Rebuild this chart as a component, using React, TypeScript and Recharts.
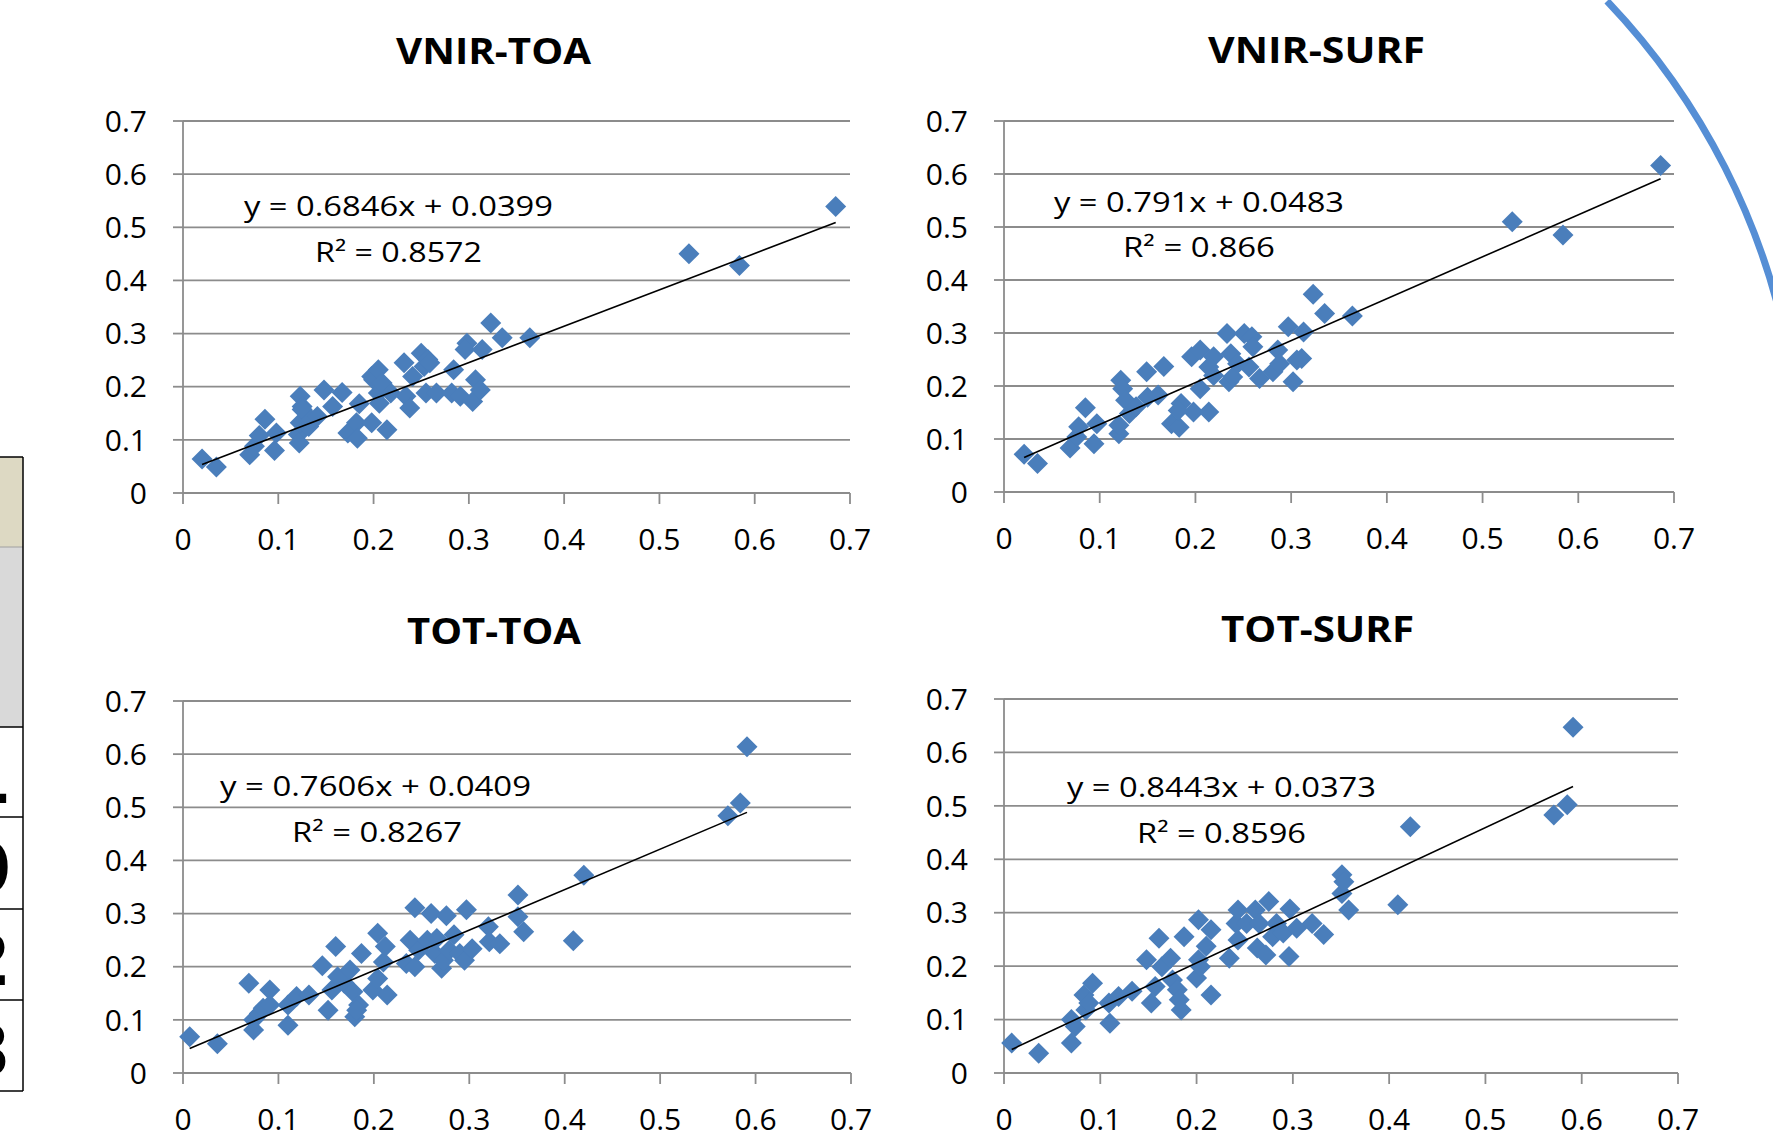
import { ScatterChart, Scatter, XAxis, YAxis, CartesianGrid } from 'recharts';

// values: [x, y]
const vnirToa: [number, number][] = [
  [0.02, 0.064], [0.035, 0.049], [0.07, 0.072], [0.075, 0.088], [0.08, 0.108], [0.086, 0.139],
  [0.096, 0.08], [0.098, 0.113], [0.121, 0.11], [0.122, 0.094], [0.123, 0.182], [0.125, 0.163],
  [0.123, 0.132], [0.125, 0.157], [0.132, 0.125], [0.135, 0.138], [0.141, 0.144], [0.148, 0.194],
  [0.157, 0.163], [0.167, 0.189], [0.173, 0.113], [0.182, 0.132], [0.183, 0.103], [0.185, 0.168],
  [0.198, 0.132], [0.198, 0.219], [0.2, 0.213], [0.205, 0.232], [0.205, 0.188], [0.206, 0.169],
  [0.214, 0.119], [0.209, 0.207], [0.218, 0.188], [0.232, 0.245], [0.234, 0.182], [0.238, 0.16],
  [0.241, 0.219], [0.25, 0.263], [0.253, 0.238], [0.257, 0.251], [0.259, 0.245], [0.255, 0.188],
  [0.266, 0.188], [0.282, 0.188], [0.284, 0.232], [0.291, 0.182], [0.298, 0.282], [0.296, 0.27],
  [0.304, 0.172], [0.307, 0.213], [0.312, 0.194], [0.314, 0.27], [0.323, 0.32], [0.335, 0.292],
  [0.364, 0.292], [0.531, 0.45], [0.584, 0.428], [0.685, 0.539],
];

const vnirSurf: [number, number][] = [
  [0.021, 0.071], [0.035, 0.054], [0.069, 0.083], [0.076, 0.104], [0.078, 0.123], [0.085, 0.159],
  [0.094, 0.091], [0.097, 0.129], [0.12, 0.11], [0.12, 0.126], [0.122, 0.211], [0.124, 0.195],
  [0.127, 0.173], [0.131, 0.148], [0.138, 0.161], [0.149, 0.227], [0.15, 0.179], [0.161, 0.183],
  [0.167, 0.237], [0.175, 0.129], [0.183, 0.122], [0.185, 0.167], [0.182, 0.154], [0.198, 0.151],
  [0.205, 0.195], [0.196, 0.255], [0.205, 0.268], [0.214, 0.151], [0.219, 0.255], [0.214, 0.236],
  [0.219, 0.22], [0.233, 0.299], [0.235, 0.208], [0.237, 0.261], [0.239, 0.217], [0.251, 0.299],
  [0.259, 0.293], [0.26, 0.274], [0.256, 0.236], [0.244, 0.242], [0.267, 0.214], [0.281, 0.227],
  [0.286, 0.268], [0.288, 0.242], [0.297, 0.312], [0.302, 0.208], [0.306, 0.249], [0.311, 0.252],
  [0.313, 0.302], [0.323, 0.373], [0.335, 0.337], [0.364, 0.332], [0.531, 0.51], [0.584, 0.485],
  [0.686, 0.616],
];

const totToa: [number, number][] = [
  [0.007, 0.068], [0.036, 0.055], [0.069, 0.169], [0.074, 0.1], [0.074, 0.081], [0.08, 0.112],
  [0.084, 0.122], [0.091, 0.156], [0.091, 0.128], [0.11, 0.09], [0.11, 0.128], [0.119, 0.144],
  [0.132, 0.147], [0.146, 0.202], [0.152, 0.118], [0.156, 0.156], [0.16, 0.238], [0.162, 0.181],
  [0.169, 0.169], [0.175, 0.194], [0.178, 0.153], [0.18, 0.106], [0.184, 0.128], [0.182, 0.118],
  [0.187, 0.225], [0.199, 0.156], [0.204, 0.263], [0.204, 0.178], [0.21, 0.209], [0.212, 0.238],
  [0.214, 0.147], [0.234, 0.206], [0.238, 0.25], [0.243, 0.311], [0.243, 0.2], [0.247, 0.231],
  [0.256, 0.25], [0.26, 0.3], [0.264, 0.225], [0.266, 0.253], [0.271, 0.197], [0.273, 0.212],
  [0.276, 0.296], [0.279, 0.231], [0.284, 0.26], [0.29, 0.225], [0.295, 0.212], [0.297, 0.307],
  [0.303, 0.234], [0.32, 0.275], [0.321, 0.247], [0.332, 0.243], [0.351, 0.335], [0.351, 0.294],
  [0.357, 0.266], [0.409, 0.249], [0.42, 0.372], [0.571, 0.484], [0.584, 0.508], [0.591, 0.614],
];

const totSurf: [number, number][] = [
  [0.008, 0.056], [0.036, 0.037], [0.07, 0.056], [0.07, 0.1], [0.074, 0.087], [0.083, 0.146],
  [0.085, 0.118], [0.092, 0.168], [0.088, 0.131], [0.11, 0.093], [0.109, 0.131], [0.119, 0.143],
  [0.133, 0.153], [0.148, 0.212], [0.153, 0.131], [0.157, 0.162], [0.161, 0.252], [0.164, 0.199],
  [0.173, 0.215], [0.175, 0.174], [0.18, 0.156], [0.182, 0.137], [0.184, 0.118], [0.187, 0.255],
  [0.2, 0.178], [0.202, 0.212], [0.204, 0.199], [0.202, 0.287], [0.21, 0.237], [0.215, 0.268],
  [0.215, 0.146], [0.234, 0.215], [0.241, 0.28], [0.243, 0.249], [0.243, 0.305], [0.252, 0.28],
  [0.261, 0.305], [0.263, 0.234], [0.265, 0.28], [0.272, 0.221], [0.275, 0.321], [0.279, 0.255],
  [0.283, 0.28], [0.29, 0.262], [0.296, 0.218], [0.297, 0.307], [0.304, 0.271], [0.32, 0.28],
  [0.332, 0.259], [0.351, 0.371], [0.351, 0.336], [0.353, 0.358], [0.358, 0.305], [0.409, 0.315],
  [0.422, 0.461], [0.571, 0.483], [0.585, 0.502], [0.591, 0.647],
];

const axisTicks = [0, 0.1, 0.2, 0.3, 0.4, 0.5, 0.6, 0.7];

// trendline coefficients as printed on each panel
const slopes = [0.6846, 0.791, 0.7606, 0.8443];
const intercepts = [0.0399, 0.0483, 0.0409, 0.0373];
const titles = ['VNIR-TOA', 'VNIR-SURF', 'TOT-TOA', 'TOT-SURF'];
const equations = ['y = 0.6846x + 0.0399', 'y = 0.791x + 0.0483', 'y = 0.7606x + 0.0409', 'y = 0.8443x + 0.0373'];
const rSquared = ['R² = 0.8572', 'R² = 0.866', 'R² = 0.8267', 'R² = 0.8596'];
const tableDigits = ['1', '0', '2', '3'];

const BLUE = '#4a7ebb';
const GRID = '#8c8c8c';
const FONT = '"Open Sans", "Liberation Sans", sans-serif';

const panels = [
  { data: vnirToa, left: 183, right: 850, top: 121, bottom: 493 },
  { data: vnirSurf, left: 1004, right: 1674, top: 121, bottom: 492 },
  { data: totToa, left: 183, right: 851, top: 701, bottom: 1073 },
  { data: totSurf, left: 1004, right: 1678, top: 699, bottom: 1073 },
];

// text placement: [x1, x2, baseline]
const titlePos = [[396, 591, 64], [1208, 1425, 63], [407, 581, 644], [1221, 1414, 642]];
const eqPos = [[244, 553, 216], [1054, 1344, 212], [220, 531, 796], [1067, 1376, 797]];
const r2Pos = [[315, 482, 262], [1123, 1275, 257], [292, 462, 842], [1137, 1306, 843]];

const Diamond = (props: any) => {
  const { cx, cy } = props;
  const r = 10.5;
  return <path d={`M${cx},${cy - r}L${cx + r},${cy}L${cx},${cy + r}L${cx - r},${cy}Z`} fill={BLUE} />;
};

const NoDot = () => <g />;

function Panel({ idx }: { idx: number }) {
  const p = panels[idx];
  const pts = p.data.map(([x, y]) => ({ x, y }));
  const xs = p.data.map((d) => d[0]);
  const x0 = Math.min(...xs);
  const x1 = Math.max(...xs);
  const trend = [
    { x: x0, y: slopes[idx] * x0 + intercepts[idx] },
    { x: x1, y: slopes[idx] * x1 + intercepts[idx] },
  ];
  const plotW = p.right - p.left;
  const plotH = p.bottom - p.top;
  const tick = { fill: '#000', fontSize: 30, fontFamily: FONT };
  return (
    <div style={{ position: 'absolute', left: p.left - 120, top: p.top - 20 }}>
      <ScatterChart width={120 + plotW + 30} height={20 + plotH + 80} margin={{ top: 20, right: 30, bottom: 0, left: 0 }}>
        <CartesianGrid horizontal vertical={false} stroke={GRID} strokeWidth={1.8} />
        <XAxis
          type="number"
          dataKey="x"
          domain={[0, 0.7]}
          ticks={axisTicks}
          height={80}
          tick={tick}
          tickSize={11}
          tickMargin={25}
          axisLine={{ stroke: GRID, strokeWidth: 1.8 }}
          tickLine={{ stroke: GRID, strokeWidth: 1.8 }}
        />
        <YAxis
          type="number"
          dataKey="y"
          domain={[0, 0.7]}
          ticks={axisTicks}
          width={120}
          tick={tick}
          tickSize={10}
          tickMargin={26}
          axisLine={{ stroke: GRID, strokeWidth: 1.8 }}
          tickLine={{ stroke: GRID, strokeWidth: 1.8 }}
        />
        <Scatter data={pts} shape={Diamond} isAnimationActive={false} />
        <Scatter data={trend} shape={NoDot} line={{ stroke: '#000', strokeWidth: 1.6 }} isAnimationActive={false} />
      </ScatterChart>
    </div>
  );
}

export default function App() {
  const rows = [727, 817, 909, 1000, 1091];
  return (
    <div style={{ position: 'absolute', left: 0, top: 0, width: 1773, height: 1140, background: '#fff', overflow: 'hidden' }}>
      {panels.map((_, i) => (
        <Panel key={i} idx={i} />
      ))}
      <svg width={1773} height={1140} style={{ position: 'absolute', left: 0, top: 0, pointerEvents: 'none' }}>
        {/* slice of a table cut off at the left edge */}
        <rect x={-5} y={457} width={28} height={90} fill="#ddd9c3" />
        <rect x={-5} y={547} width={28} height={180} fill="#d9d9d9" />
        <line x1={0} y1={457} x2={23} y2={457} stroke="#000" strokeWidth={1.5} />
        <line x1={0} y1={547} x2={23} y2={547} stroke="#a0a0a0" strokeWidth={1} />
        {rows.map((y) => (
          <line key={y} x1={0} y1={y} x2={23} y2={y} stroke="#000" strokeWidth={1.5} />
        ))}
        <line x1={23} y1={457} x2={23} y2={1091} stroke="#000" strokeWidth={1.5} />
        {tableDigits.map((d, i) => (
          <text key={d + i} x={11} y={rows[i] + 76} textAnchor="end" fontFamily="DejaVu Sans" fontWeight="bold" fontSize={72} fill="#000">
            {d}
          </text>
        ))}

        {/* decorative arc at the top right */}
        <path d="M 1607 1 A 701 701 0 0 1 1790 361" fill="none" stroke="#558ed5" strokeWidth={7} />

        {titles.map((t, i) => (
          <text key={t} x={titlePos[i][0]} y={titlePos[i][2]} textLength={titlePos[i][1] - titlePos[i][0]} lengthAdjust="spacingAndGlyphs" fontFamily={FONT} fontWeight="bold" fontSize={35} fill="#000">
            {t}
          </text>
        ))}
        {equations.map((t, i) => (
          <text key={t} x={eqPos[i][0]} y={eqPos[i][2]} textLength={eqPos[i][1] - eqPos[i][0]} lengthAdjust="spacingAndGlyphs" fontFamily={FONT} fontSize={27} fill="#000">
            {t}
          </text>
        ))}
        {rSquared.map((t, i) => (
          <text key={t} x={r2Pos[i][0]} y={r2Pos[i][2]} textLength={r2Pos[i][1] - r2Pos[i][0]} lengthAdjust="spacingAndGlyphs" fontFamily={FONT} fontSize={27} fill="#000">
            {t}
          </text>
        ))}
      </svg>
    </div>
  );
}
